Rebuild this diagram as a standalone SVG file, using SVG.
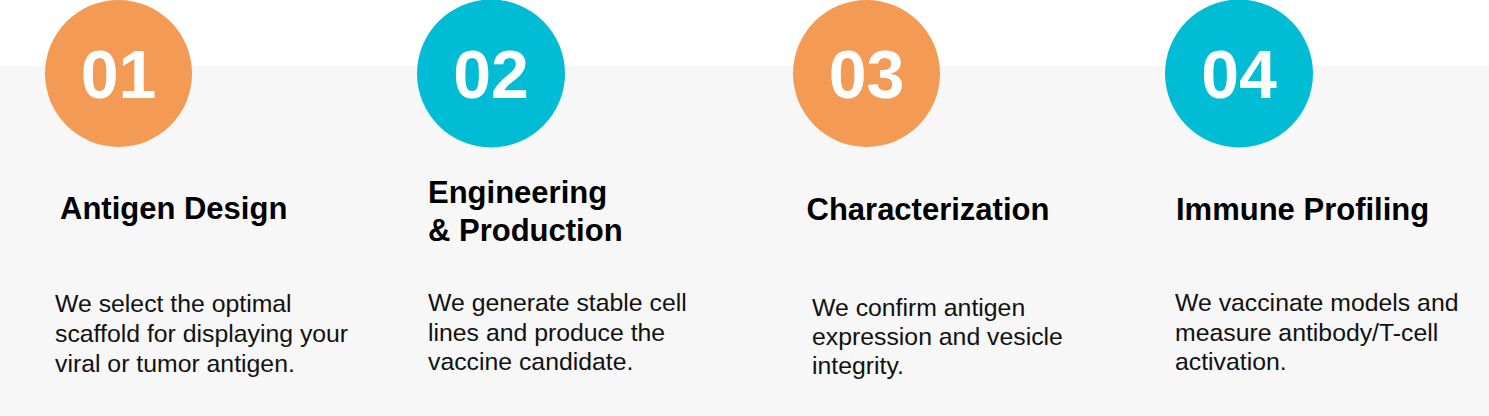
<svg xmlns="http://www.w3.org/2000/svg" width="1489" height="416" viewBox="0 0 1489 416">
<style>
.num{font-family:"Liberation Sans",Arial,sans-serif;font-weight:bold;font-size:68px;fill:#ffffff;text-anchor:middle}
.title{font-family:"Liberation Sans",Arial,sans-serif;font-weight:bold;font-size:31px;fill:#000000}
.body{font-family:"Liberation Sans",Arial,sans-serif;font-size:24.8px;fill:#111111}
.orange{fill:#F39A54}
.cyan{fill:#00BDD5}
</style>
<rect x="0" y="0" width="1489" height="416" fill="#ffffff"/>
<rect x="0" y="66" width="1489" height="350" fill="#F7F7F7"/>
<g id="connectors"></g>
<g id="step1">
<circle class="orange" cx="118.5" cy="73.5" r="73.5"/>
<text class="num" x="118.5" y="98">01</text>
<text class="title" x="60" y="219">Antigen Design</text>
<text class="body" x="55" y="312">We select the optimal</text>
<text class="body" x="55" y="342">scaffold for displaying your</text>
<text class="body" x="55" y="372">viral or tumor antigen.</text>
</g>
<g id="step2">
<circle class="cyan" cx="491" cy="73.5" r="74"/>
<text class="num" x="491" y="98">02</text>
<text class="title" x="428" y="203">Engineering</text>
<text class="title" x="428" y="241">&amp; Production</text>
<text class="body" x="428" y="311">We generate stable cell</text>
<text class="body" x="428" y="341">lines and produce the</text>
<text class="body" x="428" y="370">vaccine candidate.</text>
</g>
<g id="step3">
<circle class="orange" cx="866.5" cy="73.5" r="73.5"/>
<text class="num" x="866.5" y="98">03</text>
<text class="title" x="806.5" y="220">Characterization</text>
<text class="body" x="812" y="316">We confirm antigen</text>
<text class="body" x="812" y="345">expression and vesicle</text>
<text class="body" x="812" y="374">integrity.</text>
</g>
<g id="step4">
<circle class="cyan" cx="1239" cy="73.5" r="74"/>
<text class="num" x="1239" y="98">04</text>
<text class="title" x="1176" y="220">Immune Profiling</text>
<text class="body" x="1175" y="311">We vaccinate models and</text>
<text class="body" x="1175" y="341">measure antibody/T-cell</text>
<text class="body" x="1175" y="370">activation.</text>
</g>
</svg>
